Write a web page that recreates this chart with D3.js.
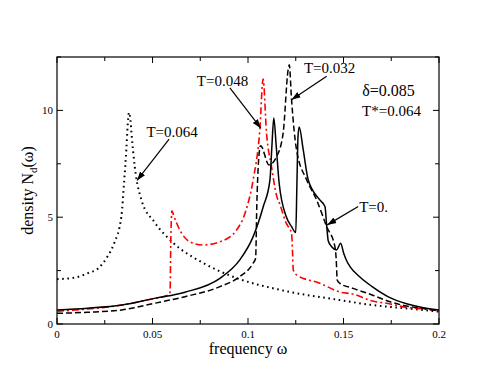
<!DOCTYPE html>
<html>
<head>
<meta charset="utf-8">
<script src="https://cdn.jsdelivr.net/npm/d3@7"></script>
<style>
  body { margin: 0; background: #fff; }
  text { font-family: "Liberation Serif", "DejaVu Serif", serif; fill: #000; }
</style>
</head>
<body>
<div id="chart"></div>
<script>
// T=0. (solid)
const solidX = [0, 0.016, 0.034, 0.051, 0.067, 0.0853, 0.0957, 0.1027, 0.108, 0.1115, 0.1125, 0.1135, 0.1148, 0.1163, 0.12, 0.1228, 0.125, 0.1256, 0.1262, 0.1268, 0.1289, 0.1315, 0.1376, 0.1403, 0.1412, 0.142, 0.1438, 0.1464, 0.1485, 0.1501, 0.1517, 0.1534, 0.1586, 0.165, 0.174, 0.183, 0.19, 0.2];
const solidY = [0.66, 0.74, 0.89, 1.2, 1.49, 2.14, 3.0, 4.09, 5.5, 6.75, 8.3, 9.64, 8.3, 6.6, 5.03, 4.56, 4.28, 6.5, 8.8, 9.22, 8.16, 6.75, 5.81, 5.5, 4.6, 3.9, 3.62, 3.47, 3.78, 3.31, 2.95, 2.69, 2.2, 1.75, 1.25, 0.95, 0.8, 0.66];

// T=0.032 (dashed)
const dashX = [0, 0.016, 0.034, 0.051, 0.067, 0.0853, 0.0957, 0.1027, 0.104, 0.1046, 0.1055, 0.1066, 0.111, 0.115, 0.1184, 0.121, 0.1216, 0.1228, 0.1254, 0.1307, 0.1359, 0.1412, 0.1455, 0.1462, 0.1467, 0.148, 0.155, 0.165, 0.174, 0.183, 0.19, 0.2];
const dashY = [0.5, 0.55, 0.66, 0.97, 1.28, 1.75, 2.22, 2.85, 3.08, 5.5, 7.6, 8.35, 7.45, 7.84, 8.94, 11.9, 12.14, 10.5, 8.16, 6.75, 5.81, 4.56, 3.62, 3.0, 2.06, 1.91, 1.67, 1.36, 1.05, 0.84, 0.75, 0.62];

// T=0.048 (red dash-dot)
const redX = [0, 0.016, 0.034, 0.051, 0.058, 0.0592, 0.0596, 0.0602, 0.061, 0.0643, 0.0695, 0.0765, 0.0853, 0.094, 0.0985, 0.1027, 0.1062, 0.1079, 0.1097, 0.1123, 0.115, 0.1167, 0.12, 0.1228, 0.1233, 0.1237, 0.1254, 0.1376, 0.148, 0.155, 0.165, 0.1726, 0.183, 0.19, 0.2];
const redY = [0.6, 0.7, 0.89, 1.2, 1.35, 1.5, 4.0, 5.3, 5.1, 4.4, 3.85, 3.7, 3.85, 4.4, 5.2, 6.75, 9.1, 11.47, 8.94, 7.37, 6.0, 5.6, 4.72, 4.25, 3.4, 2.53, 2.3, 1.91, 1.5, 1.4, 1.08, 0.97, 0.78, 0.72, 0.62];

// T=0.064 (dotted)
const dotX = [0, 0.0093, 0.0162, 0.0215, 0.026, 0.030, 0.0337, 0.0351, 0.0363, 0.037, 0.0377, 0.0385, 0.039, 0.0407, 0.0442, 0.0512, 0.0608, 0.0765, 0.094, 0.1167, 0.148, 0.165, 0.183, 0.2];
const dotY = [2.1, 2.17, 2.38, 2.6, 3.1, 3.8, 5.03, 6.6, 8.16, 9.3, 9.9, 9.5, 8.94, 7.37, 5.81, 4.75, 3.8, 2.86, 2.15, 1.6, 1.12, 0.89, 0.73, 0.58];

const xTicks = [0, 0.05, 0.1, 0.15, 0.2];
const xTickLabels = ["0", "0.05", "0.1", "0.15", "0.2"];
const yTicks = [0, 5, 10];
const yTickLabels = ["0", "5", "10"];

const width = 494;
const height = 382;
const margin = { top: 57, right: 55, bottom: 58, left: 57 };

const svg = d3.select("#chart")
    .append("svg")
    .attr("width", width)
    .attr("height", height);

const x = d3.scaleLinear().domain([0, 0.2]).range([margin.left, width - margin.right]);
const y = d3.scaleLinear().domain([0, 12.5]).range([height - margin.bottom, margin.top]);

// frame
svg.append("rect")
    .attr("x", x(0)).attr("y", y(12.5))
    .attr("width", x(0.2) - x(0)).attr("height", y(0) - y(12.5))
    .attr("fill", "none").attr("stroke", "#000").attr("stroke-width", 1.2);

// ticks (inside, mirrored)
const g = svg.append("g").attr("stroke", "#000").attr("stroke-width", 1);
const xMinor = d3.range(0, 0.2001, 0.025);
xMinor.forEach(v => {
    const major = Math.abs(v / 0.05 - Math.round(v / 0.05)) < 1e-6;
    const len = major ? 6 : 4;
    g.append("line").attr("x1", x(v)).attr("x2", x(v)).attr("y1", y(0)).attr("y2", y(0) - len);
    g.append("line").attr("x1", x(v)).attr("x2", x(v)).attr("y1", y(12.5)).attr("y2", y(12.5) + len);
});
[0, 2.5, 5, 7.5, 10, 12.5].forEach(v => {
    const major = v % 5 === 0;
    const len = major ? 6 : 4;
    g.append("line").attr("y1", y(v)).attr("y2", y(v)).attr("x1", x(0)).attr("x2", x(0) + len);
    g.append("line").attr("y1", y(v)).attr("y2", y(v)).attr("x1", x(0.2)).attr("x2", x(0.2) - len);
});

// tick labels
xTicks.forEach((v, i) => {
    svg.append("text").attr("x", x(v)).attr("y", y(0) + 14)
        .attr("text-anchor", "middle").attr("font-size", 11).text(xTickLabels[i]);
});
yTicks.forEach((v, i) => {
    svg.append("text").attr("x", x(0) - 4).attr("y", y(v) + 4)
        .attr("text-anchor", "end").attr("font-size", 11).text(yTickLabels[i]);
});

// axis titles
svg.append("text")
    .attr("x", (x(0) + x(0.2)) / 2).attr("y", y(0) + 30)
    .attr("text-anchor", "middle").attr("font-size", 16).text("frequency ω");

const yl = svg.append("text")
    .attr("transform", `translate(33,${(y(0) + y(12.5)) / 2}) rotate(-90)`)
    .attr("text-anchor", "middle").attr("font-size", 16);
yl.append("tspan").text("density N");
yl.append("tspan").attr("font-size", 11).attr("dy", 4).text("d");
yl.append("tspan").attr("dy", -4).text("(ω)");

// curves
const line = d3.line()
    .x(d => x(d[0]))
    .y(d => y(d[1]))
    .curve(d3.curveMonotoneX);

svg.append("clipPath").attr("id", "clip").append("rect")
    .attr("x", x(0)).attr("y", y(12.5)).attr("width", x(0.2) - x(0)).attr("height", y(0) - y(12.5));

const curves = svg.append("g").attr("clip-path", "url(#clip)");

curves.append("path")
    .datum(d3.zip(dotX, dotY))
    .attr("fill", "none").attr("stroke", "#000").attr("stroke-width", 2)
    .attr("stroke-dasharray", "1.6,3.6")
    .attr("d", line);

curves.append("path")
    .datum(d3.zip(redX, redY))
    .attr("fill", "none").attr("stroke", "#ff0000").attr("stroke-width", 1.6)
    .attr("stroke-dasharray", "7,3,2,3")
    .attr("d", line);

curves.append("path")
    .datum(d3.zip(dashX, dashY))
    .attr("fill", "none").attr("stroke", "#000").attr("stroke-width", 1.5)
    .attr("stroke-dasharray", "6,3")
    .attr("d", line);

curves.append("path")
    .datum(d3.zip(solidX, solidY))
    .attr("fill", "none").attr("stroke", "#000").attr("stroke-width", 1.5)
    .attr("d", line);

// annotations
svg.append("defs").append("marker")
    .attr("id", "arrow").attr("viewBox", "0 0 10 10")
    .attr("refX", 10).attr("refY", 5)
    .attr("markerWidth", 9).attr("markerHeight", 9)
    .attr("markerUnits", "userSpaceOnUse")
    .attr("orient", "auto")
    .append("path").attr("d", "M0,1.5 L10,5 L0,8.5 Z").attr("fill", "#000");

const labels = [
    { text: "T=0.048", tx: 0.0732, ty: 11.16, size: 15 },
    { text: "T=0.064", tx: 0.0468, ty: 8.77, size: 15 },
    { text: "T=0.032", tx: 0.1293, ty: 11.77, size: 15 },
    { text: "T=0.", tx: 0.1582, ty: 5.26, size: 15 },
    { text: "δ=0.085", tx: 0.1598, ty: 10.66, size: 16 },
    { text: "T*=0.064", tx: 0.1597, ty: 9.72, size: 15 }
];
labels.forEach(d => {
    svg.append("text").attr("x", x(d.tx)).attr("y", y(d.ty))
        .attr("font-size", d.size).text(d.text);
});

const arrows = [
    { x1: 0.0905, y1: 11.05, x2: 0.1067, y2: 9.17 },
    { x1: 0.0587, y1: 8.66, x2: 0.0419, y2: 6.72 },
    { x1: 0.1412, y1: 11.6, x2: 0.1228, y2: 10.5 },
    { x1: 0.1577, y1: 5.5, x2: 0.1415, y2: 4.64 }
];
arrows.forEach(a => {
    svg.append("line")
        .attr("x1", x(a.x1)).attr("y1", y(a.y1))
        .attr("x2", x(a.x2)).attr("y2", y(a.y2))
        .attr("stroke", "#000").attr("stroke-width", 1.2)
        .attr("marker-end", "url(#arrow)");
});
</script>
</body>
</html>
